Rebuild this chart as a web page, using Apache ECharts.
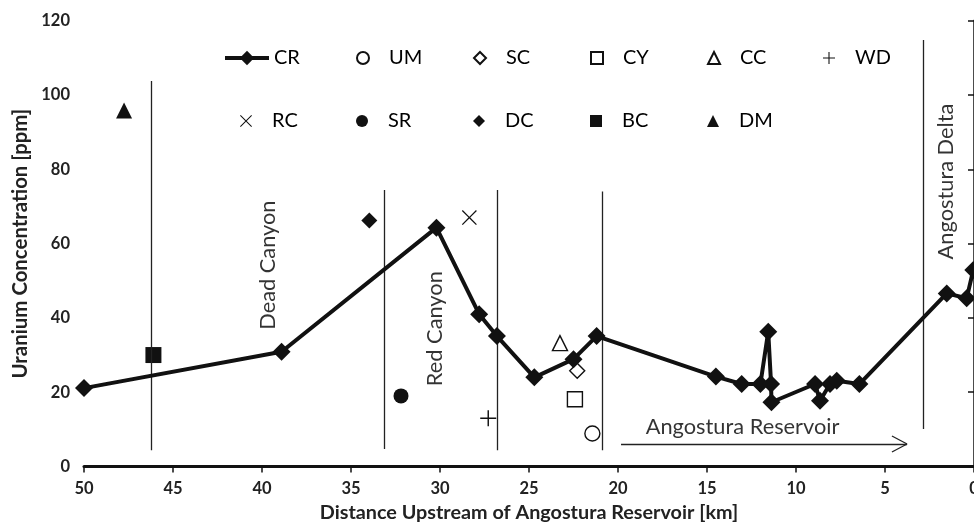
<!DOCTYPE html>
<html><head><meta charset="utf-8">
<script src="https://cdn.jsdelivr.net/npm/echarts@6/dist/echarts.min.js"></script>
<style>html,body{margin:0;padding:0;background:#fff}#c{width:974px;height:529px}</style>
</head><body><div id="c"></div>
<script>
// ---- data ----
const crDistance = [50, 38.9, 30.2, 27.8, 26.8, 24.7, 22.5, 21.2, 14.5, 13.05, 12.0, 11.56, 11.4, 11.38, 8.93, 8.65, 8.09, 7.71, 6.44, 1.53, 0.41, 0.04];
const crUranium  = [21.1, 30.9, 64.3, 41.0, 35.1, 24.0, 28.9, 35.1, 24.2, 22.2, 22.2, 36.3, 22.2, 17.3, 22.2, 17.7, 22.2, 23.1, 22.2, 46.6, 45.3, 52.9];
const siteNames    = ['UM', 'SC', 'CY', 'CC', 'WD', 'RC', 'SR', 'DC', 'BC', 'DM'];
const siteDistance = [21.44, 22.29, 22.42, 23.26, 27.29, 28.35, 32.19, 33.97, 46.1, 47.75];
const siteUranium  = [8.9, 25.8, 18.1, 33.2, 13.0, 67.0, 19.0, 66.2, 30.0, 95.8];
const xTickValues = [50, 45, 40, 35, 30, 25, 20, 15, 10, 5, 0];
const yTickValues = [0, 20, 40, 60, 80, 100, 120];
// reference lines: distance, lower ppm, upper ppm
const guideDistance = [46.2, 33.15, 26.81, 20.88, 2.87];
const guideLow      = [4.4, 4.7, 4.4, 4.4, 10.1];
const guideHigh     = [103.8, 74.4, 74.4, 74.0, 114.8];
// arrow for reservoir: from / to distance, ppm level
const arrowFrom = 19.83, arrowTo = 3.76, arrowLevel = 6.06, arrowHeadBack = 4.61, arrowHeadHalf = 2.15;
// text annotations
const noteText     = ['Dead Canyon', 'Red Canyon', 'Angostura Delta', 'Angostura Reservoir'];
const noteDistance = [39.66, 30.28, 1.57, 13.0];
const noteUranium  = [54.2, 37.1, 76.7, 10.6];
const noteRotate   = [90, 90, 90, 0];

// ---- styles ----
const INK = '#111';
const FONT = 'Lato';
const X_PATH = 'path://M0,0.6L0.6,0L5,4.4L9.4,0L10,0.6L5.6,5L10,9.4L9.4,10L5,5.6L0.6,10L0,9.4L4.4,5Z';
const PLUS_PATH = 'path://M4.55,0h0.9v4.55h4.55v0.9h-4.55v4.55h-0.9v-4.55h-4.55v-0.9h4.55Z';
const openStyle = {color: '#fff', borderColor: INK, borderWidth: 1.4, opacity: 1};
const fillStyle = {color: INK, opacity: 1};
const siteSymbols = {
  UM: {symbol: 'circle', size: 15, style: openStyle},
  SC: {symbol: 'diamond', size: 15, style: openStyle},
  CY: {symbol: 'rect', size: 15, style: openStyle},
  CC: {symbol: 'triangle', size: 15, style: openStyle},
  WD: {symbol: PLUS_PATH, size: 16, style: fillStyle},
  RC: {symbol: X_PATH, size: 15, style: fillStyle},
  SR: {symbol: 'circle', size: 15, style: fillStyle},
  DC: {symbol: 'diamond', size: 16, style: fillStyle},
  BC: {symbol: 'rect', size: 16, style: fillStyle},
  DM: {symbol: 'triangle', size: 16, style: fillStyle}
};

const guideData = guideDistance.map((d, i) => [{coord: [d, guideLow[i]]}, {coord: [d, guideHigh[i]]}]);
guideData.push([{coord: [arrowFrom, arrowLevel]}, {coord: [arrowTo, arrowLevel]}]);
guideData.push([{coord: [arrowHeadBack, arrowLevel + arrowHeadHalf]}, {coord: [arrowTo, arrowLevel]}]);
guideData.push([{coord: [arrowHeadBack, arrowLevel - arrowHeadHalf]}, {coord: [arrowTo, arrowLevel]}]);

const series = [{
  name: 'CR', type: 'line',
  data: crDistance.map((d, i) => [d, crUranium[i]]),
  symbol: 'diamond', symbolSize: 18,
  lineStyle: {color: INK, width: 4},
  itemStyle: {color: INK, opacity: 1},
  z: 5,
  markLine: {
    silent: true, symbol: 'none', animation: false,
    label: {show: false},
    lineStyle: {color: '#222', width: 1.3, type: 'solid'},
    emphasis: {disabled: true},
    data: guideData
  }
}];
siteNames.forEach((n, i) => {
  const s = siteSymbols[n];
  series.push({
    name: n, type: 'scatter',
    data: [[siteDistance[i], siteUranium[i]]],
    symbol: s.symbol, symbolSize: s.size, symbolKeepAspect: true,
    itemStyle: s.style, z: 4
  });
});
series.push({
  name: 'notes', type: 'scatter', silent: true,
  data: noteText.map((t, i) => ({value: [noteDistance[i], noteUranium[i]], name: t,
    label: {rotate: noteRotate[i]}})),
  symbolSize: 0,
  label: {show: true, position: 'inside', formatter: p => p.name,
    fontFamily: FONT, fontSize: 21.8, color: '#000', align: 'center', verticalAlign: 'middle'},
  z: 3
});

// ---- legends: one component per item ----
const legendRows = [['CR', 'UM', 'SC', 'CY', 'CC', 'WD'], ['RC', 'SR', 'DC', 'BC', 'DM']];
const legendCenters = [246, 362, 479, 596, 713, 829];
const legendRowY = [58, 121];
const legends = [];
legendRows.forEach((row, r) => {
  row.forEach((name, c) => {
    const base = {
      data: [name], orient: 'horizontal', padding: 0, selectedMode: false,
      textStyle: {fontFamily: FONT, fontSize: 20, color: '#000', lineHeight: 22}
    };
    if (name === 'CR') {
      Object.assign(base, {left: 223, top: legendRowY[r] - 11, itemWidth: 44, itemHeight: 18,
        lineStyle: {width: 4}});
    } else {
      Object.assign(base, {left: legendCenters[c] - 6, top: legendRowY[r] - 11, itemWidth: 12, itemHeight: 12});
      base.textStyle.padding = [0, 0, 0, 15];
    }
    legends.push(base);
  });
});

const chart = echarts.init(document.getElementById('c'), null, {renderer: 'canvas'});
chart.setOption({
  animation: false,
  backgroundColor: '#fff',
  grid: {left: 84, right: 0, top: 20.7, bottom: 62.5, containLabel: false, outerBoundsMode: 'none'},
  legend: legends,
  xAxis: {
    type: 'value', inverse: true,
    min: Math.min(...xTickValues), max: Math.max(...xTickValues), interval: xTickValues[0] - xTickValues[1],
    axisLine: {show: true, lineStyle: {color: INK, width: 3}},
    axisTick: {show: true, length: 6, lineStyle: {color: INK, width: 1.5}},
    axisLabel: {fontFamily: FONT, fontWeight: 'bold', fontSize: 16.5, color: '#222', margin: 14},
    splitLine: {show: false},
    name: 'Distance Upstream of Angostura Reservoir [km]',
    nameLocation: 'middle', nameGap: 35,
    nameTextStyle: {fontFamily: FONT, fontWeight: 'bold', fontSize: 19.8, color: '#222'}
  },
  yAxis: {
    type: 'value',
    min: yTickValues[0], max: yTickValues[yTickValues.length - 1], interval: yTickValues[1] - yTickValues[0],
    axisLine: {show: true, lineStyle: {color: INK, width: 2.5}},
    axisTick: {show: true, length: 6, lineStyle: {color: INK, width: 1.5}},
    axisLabel: {fontFamily: FONT, fontWeight: 'bold', fontSize: 16.5, color: '#222', margin: 14},
    splitLine: {show: false},
    name: 'Uranium Concentration [ppm]',
    nameLocation: 'middle', nameGap: 54,
    nameTextStyle: {fontFamily: FONT, fontWeight: 'bold', fontSize: 20.4, color: '#222'}
  },
  series: series
});
</script>
</body></html>
